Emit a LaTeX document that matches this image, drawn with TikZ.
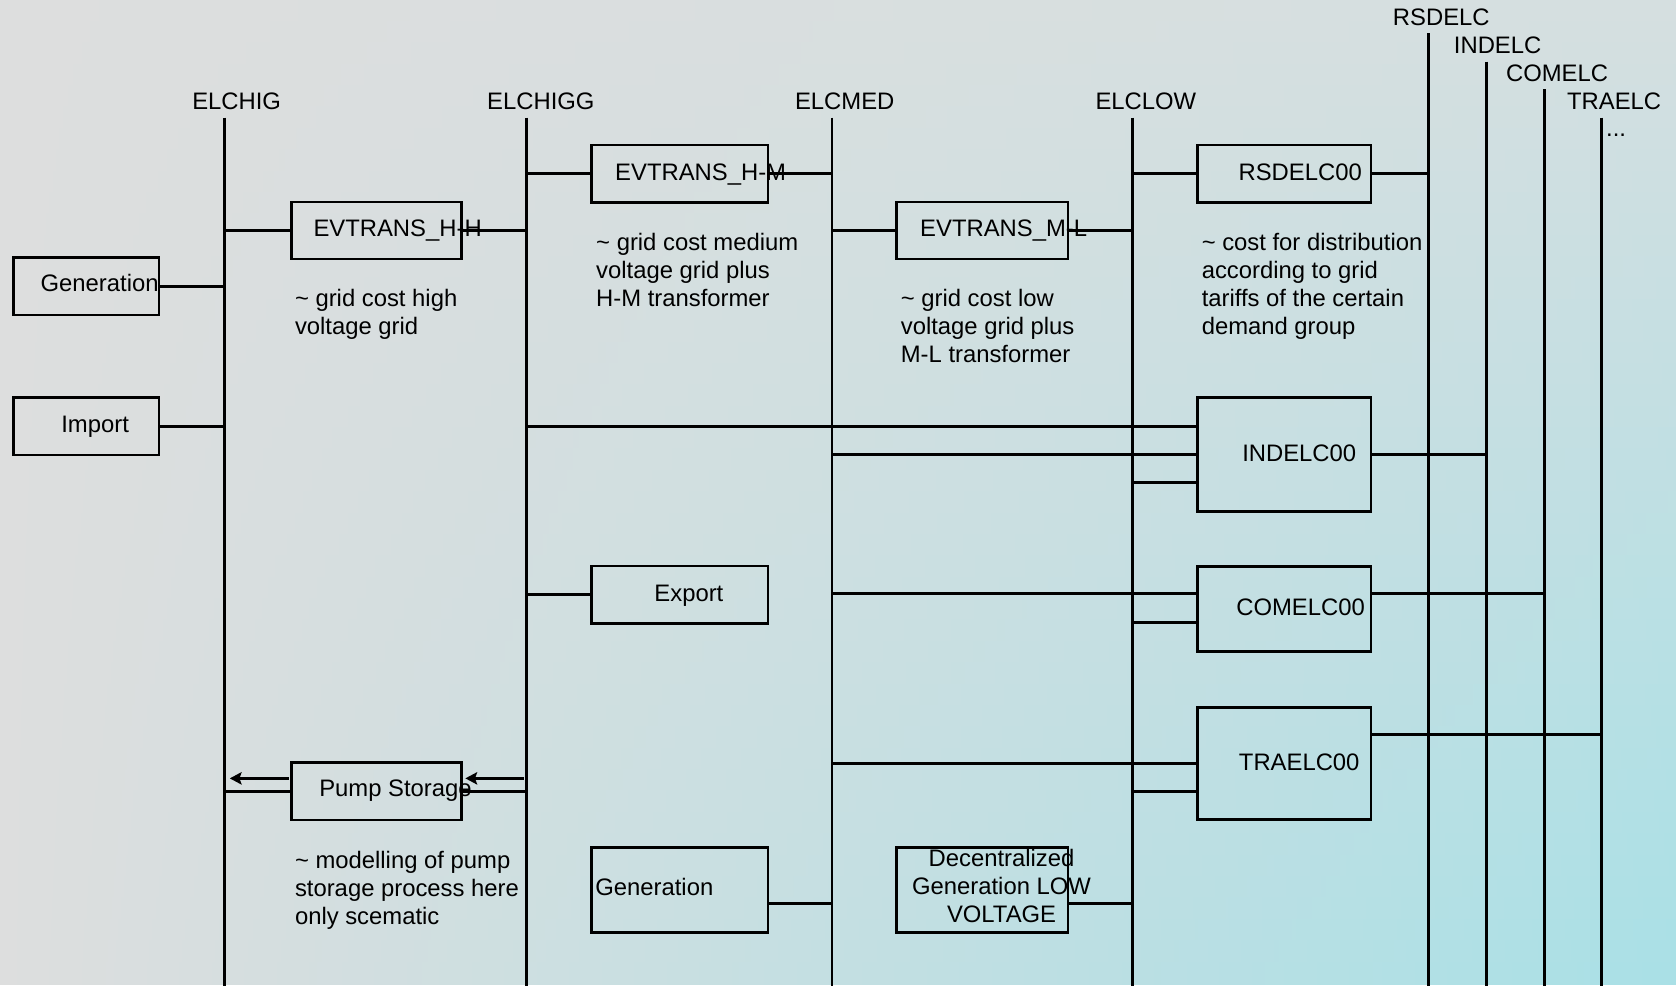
\documentclass[tikz,border=0pt]{standalone}
\usepackage{fontspec}
\setmainfont{Liberation Sans}
\usetikzlibrary{arrows.meta}
\definecolor{bgL}{HTML}{DDDEDE}
\definecolor{bgTR}{HTML}{D5DFE0}
\definecolor{bgBR}{HTML}{A9E0E6}
\begin{document}
\begin{tikzpicture}[x=1pt,y=-1pt,
  wire/.style={draw=black, line width=2.6pt},
  thinwire/.style={draw=black, line width=2.1pt},
  bus/.style={draw=black, line width=2.6pt},
  box/.style={draw=black, line width=2.6pt, inner sep=0pt, outer sep=0pt},
  txt/.style={inner sep=0pt, outer sep=0pt, font=\fontsize{22.3}{26.2}\selectfont},
  note/.style={txt, align=left, anchor=north west},
  arr/.style={draw=black, line width=2.6pt, -{Stealth[length=11pt,width=11.5pt,inset=2pt]}}]

% background
\useasboundingbox (0,0) rectangle (1568,922);
\foreach \i in {0,...,45} {
  \pgfmathtruncatemacro\p{round(100*(\i+0.5)/46)}
  \shade[left color=bgL, right color=bgBR!\p!bgTR] (0,{\i*20}) rectangle (1568,{\i*20+21});
}

% bus coordinates
\coordinate (hig-t) at (210.2,110);   \coordinate (hig-b) at (210.2,922);
\coordinate (higg-t) at (492.8,110);  \coordinate (higg-b) at (492.8,922);
\coordinate (med-t) at (778.4,110);   \coordinate (med-b) at (778.4,922);
\coordinate (low-t) at (1059.8,110);  \coordinate (low-b) at (1059.8,922);
\coordinate (rsd-t) at (1336.7,31.2); \coordinate (rsd-b) at (1336.7,922);
\coordinate (ind-t) at (1390.7,57.7); \coordinate (ind-b) at (1390.7,922);
\coordinate (com-t) at (1445,83.6);   \coordinate (com-b) at (1445,922);
\coordinate (tra-t) at (1498.6,110);  \coordinate (tra-b) at (1498.6,922);

\foreach \b in {hig,higg,med,low,rsd,ind,com,tra}
  \draw[bus] (\b-t) -- (\b-b);

% bus labels
\node[txt, anchor=base] (lhig)  at (221.4,102.3) {ELCHIG};
\node[txt, anchor=base] (lhigg) at (506,102.3) {ELCHIGG};
\node[txt, anchor=base] (lmed)  at (790.3,102.3) {ELCMED};
\node[txt, anchor=base] (llow)  at (1072,102.3) {ELCLOW};
\node[txt, anchor=base] (lrsd)  at (1348.4,23.4) {RSDELC};
\node[txt, anchor=base] (lind)  at (1401.1,49.7) {INDELC};
\node[txt, anchor=base] (lcom)  at (1456.7,76) {COMELC};
\node[txt, anchor=base] (ltra)  at (1510.1,102.3) {TRAELC};
\node[txt, anchor=base] (ldots) at (1512,127.5) {...};

% boxes
\node[box, minimum width=136.3pt, minimum height=53.6pt] (GenL) at (80.55,267.9) {};
\node[box, minimum width=136.3pt, minimum height=53.7pt] (Imp)  at (80.55,398.85) {};
\node[box, minimum width=159.4pt, minimum height=53.3pt] (HH)   at (352.3,215.65) {};
\node[box, minimum width=165pt,   minimum height=53.9pt] (HM)   at (636.1,162.65) {};
\node[box, minimum width=160.3pt, minimum height=53.3pt] (ML)   at (919.05,215.65) {};
\node[box, minimum width=162.5pt, minimum height=53.6pt] (RSD)  at (1201.45,162.5) {};
\node[box, minimum width=162.5pt, minimum height=106.2pt] (IND) at (1201.45,425.3) {};
\node[box, minimum width=165pt,   minimum height=53.6pt] (Exp)  at (636.1,556.3) {};
\node[box, minimum width=162.5pt, minimum height=79.9pt] (COM)  at (1201.45,569.75) {};
\node[box, minimum width=162.5pt, minimum height=104.9pt] (TRA) at (1201.45,714.25) {};
\node[box, minimum width=159.4pt, minimum height=53.6pt] (Pump) at (352.3,740.3) {};
\node[box, minimum width=165pt,   minimum height=79.5pt] (GenM) at (636.1,832.45) {};
\node[box, minimum width=160.3pt, minimum height=79.5pt] (Dec)  at (919.05,832.45) {};

% connectors
\draw[wire] (GenL.east) -- (GenL.east -| hig-t);
\draw[wire] (Imp.east) -- (Imp.east -| hig-t);
\draw[wire] (HH.west -| hig-t) -- (HH.west);
\draw[wire] (HH.east) -- (HH.east -| higg-t);
\draw[wire] (HM.west -| higg-t) -- (HM.west);
\draw[wire] (HM.east) -- (HM.east -| med-t);
\draw[wire] (ML.west -| med-t) -- (ML.west);
\draw[wire] (ML.east) -- (ML.east -| low-t);
\draw[wire] (RSD.west -| low-t) -- (RSD.west);
\draw[wire] (RSD.east) -- (RSD.east -| rsd-t);

\coordinate (IND1) at ([yshift=26.3pt]IND.west);
\coordinate (IND3) at ([yshift=-26pt]IND.west);
\draw[wire] (IND1 -| higg-t) -- (IND1);
\draw[wire] (IND.west -| med-t) -- (IND.west);
\draw[wire] (IND3 -| low-t) -- (IND3);
\draw[wire] (IND.east) -- (IND.east -| ind-t);

\draw[wire] (Exp.west -| higg-t) -- (Exp.west);

\coordinate (COM1) at ([yshift=14.25pt]COM.west);
\coordinate (COM2) at ([yshift=-12.55pt]COM.west);
\coordinate (COM3) at ([yshift=14.25pt]COM.east);
\draw[wire] (COM1 -| med-t) -- (COM1);
\draw[wire] (COM2 -| low-t) -- (COM2);
\draw[wire] (COM3) -- (COM3 -| com-t);

\coordinate (TRA2) at ([yshift=-26.4pt]TRA.west);
\coordinate (TRA3) at ([yshift=27pt]TRA.east);
\draw[wire] (TRA.west -| med-t) -- (TRA.west);
\draw[wire] (TRA2 -| low-t) -- (TRA2);
\draw[thinwire] (TRA3) -- (TRA3 -| tra-t);

\draw[wire] (Pump.west -| hig-t) -- (Pump.west);
\draw[wire] (Pump.east) -- (Pump.east -| higg-t);
\coordinate (PA1) at ([yshift=12.1pt]Pump.west);
\coordinate (PA0) at (hig-t |- PA1);
\coordinate (PB1) at ([yshift=12.1pt]Pump.east);
\coordinate (PB0) at (higg-t |- PB1);
\draw[arr] ([xshift=-2.6pt]PA1) -- ([xshift=4.8pt]PA0);
\draw[arr] ([xshift=-2.6pt]PB0) -- ([xshift=3.4pt]PB1);

\coordinate (GM1) at ([yshift=-12.6pt]GenM.east);
\draw[wire] (GM1) -- (GM1 -| med-t);
\coordinate (DC1) at ([yshift=-12.6pt]Dec.east);
\draw[wire] (DC1) -- (DC1 -| low-t);

% box texts
\node[txt, anchor=base] (tGenL) at (93.2,272.9) {Generation};
\node[txt, anchor=base] (tImp)  at (89,404.8) {Import};
\node[txt, anchor=base] (tHH)   at (372,221.4) {EVTRANS\_H-H};
\node[txt, anchor=base] (tHM)   at (655.5,169) {EVTRANS\_H-M};
\node[txt, anchor=base] (tML)   at (939,221.4) {EVTRANS\_M-L};
\node[txt, anchor=base] (tRSD)  at (1216.4,169) {RSDELC00};
\node[txt, anchor=base] (tIND)  at (1215.5,431.4) {INDELC00};
\node[txt, anchor=base] (tExp)  at (644.5,562.9) {Export};
\node[txt, anchor=base] (tCOM)  at (1216.8,576.1) {COMELC00};
\node[txt, anchor=base] (tTRA)  at (1215.5,720.8) {TRAELC00};
\node[txt, anchor=base] (tPump) at (370,745.3) {Pump Storage};
\node[txt, anchor=base west] (tGenM) at (557,838.2) {Generation};
\node[txt, align=center, anchor=north] (tDec) at (937,794.9) {Decentralized\\Generation LOW\\VOLTAGE};

% notes
\node[note] (nHH)  at (276,270.9) {\textasciitilde{} grid cost high\\voltage grid};
\node[note] (nHM)  at (557.8,217.9) {\textasciitilde{} grid cost medium\\voltage grid plus\\H-M transformer};
\node[note] (nML)  at (842.8,270.9) {\textasciitilde{} grid cost low\\voltage grid plus\\M-L transformer};
\node[note] (nRSD) at (1124.3,217.9) {\textasciitilde{} cost for distribution\\according to grid\\tariffs of the certain\\demand group};
\node[note] (nPump) at (276,796.4) {\textasciitilde{} modelling of pump\\storage process here\\only scematic};
\end{tikzpicture}
\end{document}
